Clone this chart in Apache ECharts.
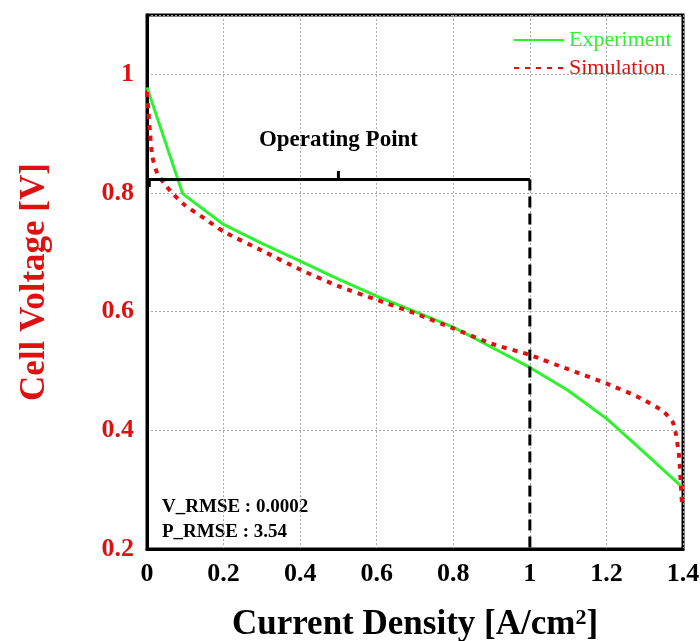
<!DOCTYPE html>
<html>
<head>
<meta charset="utf-8">
<script src="https://cdn.jsdelivr.net/npm/echarts@6/dist/echarts.min.js"></script>
<style>
  html, body { margin: 0; padding: 0; background: #fff; }
  #main { width: 700px; height: 641px; }
</style>
</head>
<body>
<div id="main"></div>
<script>
// polarization curve
var expCurrent = [0, 0.093, 0.2, 0.3, 0.4, 0.5, 0.6, 0.7, 0.8, 0.9, 1.0, 1.1, 1.2, 1.3, 1.4]
var expVoltage = [0.978, 0.799, 0.747, 0.715, 0.685, 0.655, 0.626, 0.600, 0.574, 0.540, 0.506, 0.467, 0.420, 0.362, 0.303]

var simCurrent = [0, 0.004, 0.008, 0.014, 0.027, 0.045, 0.07, 0.1, 0.15, 0.2, 0.3, 0.4, 0.5, 0.6, 0.7, 0.8, 0.9, 1.0, 1.1, 1.2, 1.29, 1.35, 1.373, 1.381, 1.39, 1.395, 1.398]
var simVoltage = [0.97, 0.935, 0.9, 0.861, 0.833, 0.816, 0.797, 0.779, 0.757, 0.735, 0.703, 0.671, 0.643, 0.62, 0.597, 0.572, 0.546, 0.527, 0.503, 0.479, 0.454, 0.431, 0.414, 0.395, 0.355, 0.30, 0.27]

// operating point bracket (data units)
var opLevel = 0.8226
var opBracket = [[0.006, 0.81], [0.006, opLevel], [1.0, opLevel]]
var opTick = [[0.5, opLevel], [0.5, 0.837]]
var opDrop = [[1.0, opLevel], [1.0, 0.2]]
var opLabelPos = [[0.5, 0.889]]

var xTicks = { min: 0, max: 1.4, interval: 0.2 }
var yTicks = { min: 0.2, max: 1.1, interval: 0.2 }

var serif = 'Liberation Serif'
var red = '#e01010'
var green = '#2ef22e'

function zip(xs, ys) {
  return xs.map(function(x, i) { return [x, ys[i]] })
}

var myChart = echarts.init(document.getElementById('main'))

var option = {
  animation: false,
  grid: {
    left: 147,
    right: 17,
    top: 15,
    bottom: 92,
    outerBoundsMode: 'none',
    containLabel: false,
    show: true,
    borderColor: '#000',
    borderWidth: 3
  },
  legend: {
    orient: 'vertical',
    left: 508,
    top: 24,
    itemWidth: 50,
    itemHeight: 14,
    itemGap: 6,
    itemStyle: { opacity: 0 },
    data: [
      { name: 'Experiment', textStyle: { color: green } },
      { name: 'Simulation', textStyle: { color: red } }
    ],
    textStyle: {
      fontFamily: serif,
      fontSize: 22
    }
  },
  xAxis: {
    type: 'value',
    min: xTicks.min,
    max: xTicks.max,
    interval: xTicks.interval,
    name: 'Current Density [A/cm{sup|2}]',
    nameLocation: 'middle',
    nameGap: 58,
    nameTextStyle: {
      fontFamily: serif,
      fontWeight: 'bold',
      fontSize: 35,
      color: '#000',
      rich: {
        sup: {
          fontFamily: serif,
          fontWeight: 'bold',
          fontSize: 22,
          color: '#000',
          verticalAlign: 'top',
          padding: [0, 0, 14, 0]
        }
      }
    },
    axisLine: { show: true, onZero: false, lineStyle: { color: '#000', width: 3 } },
    axisTick: { show: false },
    axisLabel: {
      margin: 12,
      fontFamily: serif,
      fontWeight: 'bold',
      fontSize: 26,
      color: '#000'
    },
    splitLine: { show: true, lineStyle: { color: '#aaa', type: [2, 2], width: 1 } }
  },
  yAxis: {
    type: 'value',
    min: yTicks.min,
    max: yTicks.max,
    interval: yTicks.interval,
    name: 'Cell Voltage [V]',
    nameLocation: 'middle',
    nameGap: 95,
    nameTextStyle: {
      fontFamily: serif,
      fontWeight: 'bold',
      fontSize: 35,
      color: red
    },
    axisLine: { show: true, onZero: false, lineStyle: { color: '#000', width: 3 } },
    axisTick: { show: false },
    axisLabel: {
      margin: 13,
      fontFamily: serif,
      fontWeight: 'bold',
      fontSize: 26,
      color: red,
      formatter: function(v) {
        return v > 1.05 ? '' : String(Math.round(v * 10) / 10)
      }
    },
    splitLine: { show: true, lineStyle: { color: '#aaa', type: [2, 2], width: 1 } }
  },
  series: [
    {
      name: 'Experiment',
      type: 'line',
      data: zip(expCurrent, expVoltage),
      showSymbol: false,
      symbol: 'none',
      color: green,
      lineStyle: { color: green, width: 3 },
      z: 3
    },
    {
      name: 'Simulation',
      type: 'line',
      data: zip(simCurrent, simVoltage),
      showSymbol: false,
      symbol: 'none',
      smooth: 0.2,
      color: red,
      lineStyle: { color: red, width: 4, type: [5, 6] },
      z: 4
    },
    {
      name: 'bracket',
      type: 'line',
      data: opBracket,
      symbol: 'none',
      lineStyle: { color: '#000', width: 3 },
      z: 5
    },
    {
      name: 'bracketTick',
      type: 'line',
      data: opTick,
      symbol: 'none',
      lineStyle: { color: '#000', width: 3 },
      z: 5
    },
    {
      name: 'drop',
      type: 'line',
      data: opDrop,
      symbol: 'none',
      lineStyle: { color: '#000', width: 3, type: [11, 6] },
      z: 5
    },
    {
      name: 'opLabel',
      type: 'scatter',
      data: opLabelPos,
      symbolSize: 1,
      itemStyle: { opacity: 1, color: 'transparent' },
      label: {
        show: true,
        position: 'inside',
        formatter: 'Operating Point',
        fontFamily: serif,
        fontWeight: 'bold',
        fontSize: 23,
        color: '#000',
        opacity: 1,
        textBorderWidth: 0
      },
      z: 6
    }
  ],
  graphic: [
    {
      type: 'text',
      left: 162,
      top: 498,
      style: {
        text: 'V_RMSE : 0.0002',
        font: 'bold 19px "Liberation Serif"',
        fill: '#000'
      }
    },
    {
      type: 'text',
      left: 162,
      top: 523,
      style: {
        text: 'P_RMSE : 3.54',
        font: 'bold 19px "Liberation Serif"',
        fill: '#000'
      }
    }
  ]
}

myChart.setOption(option)
</script>
</body>
</html>
